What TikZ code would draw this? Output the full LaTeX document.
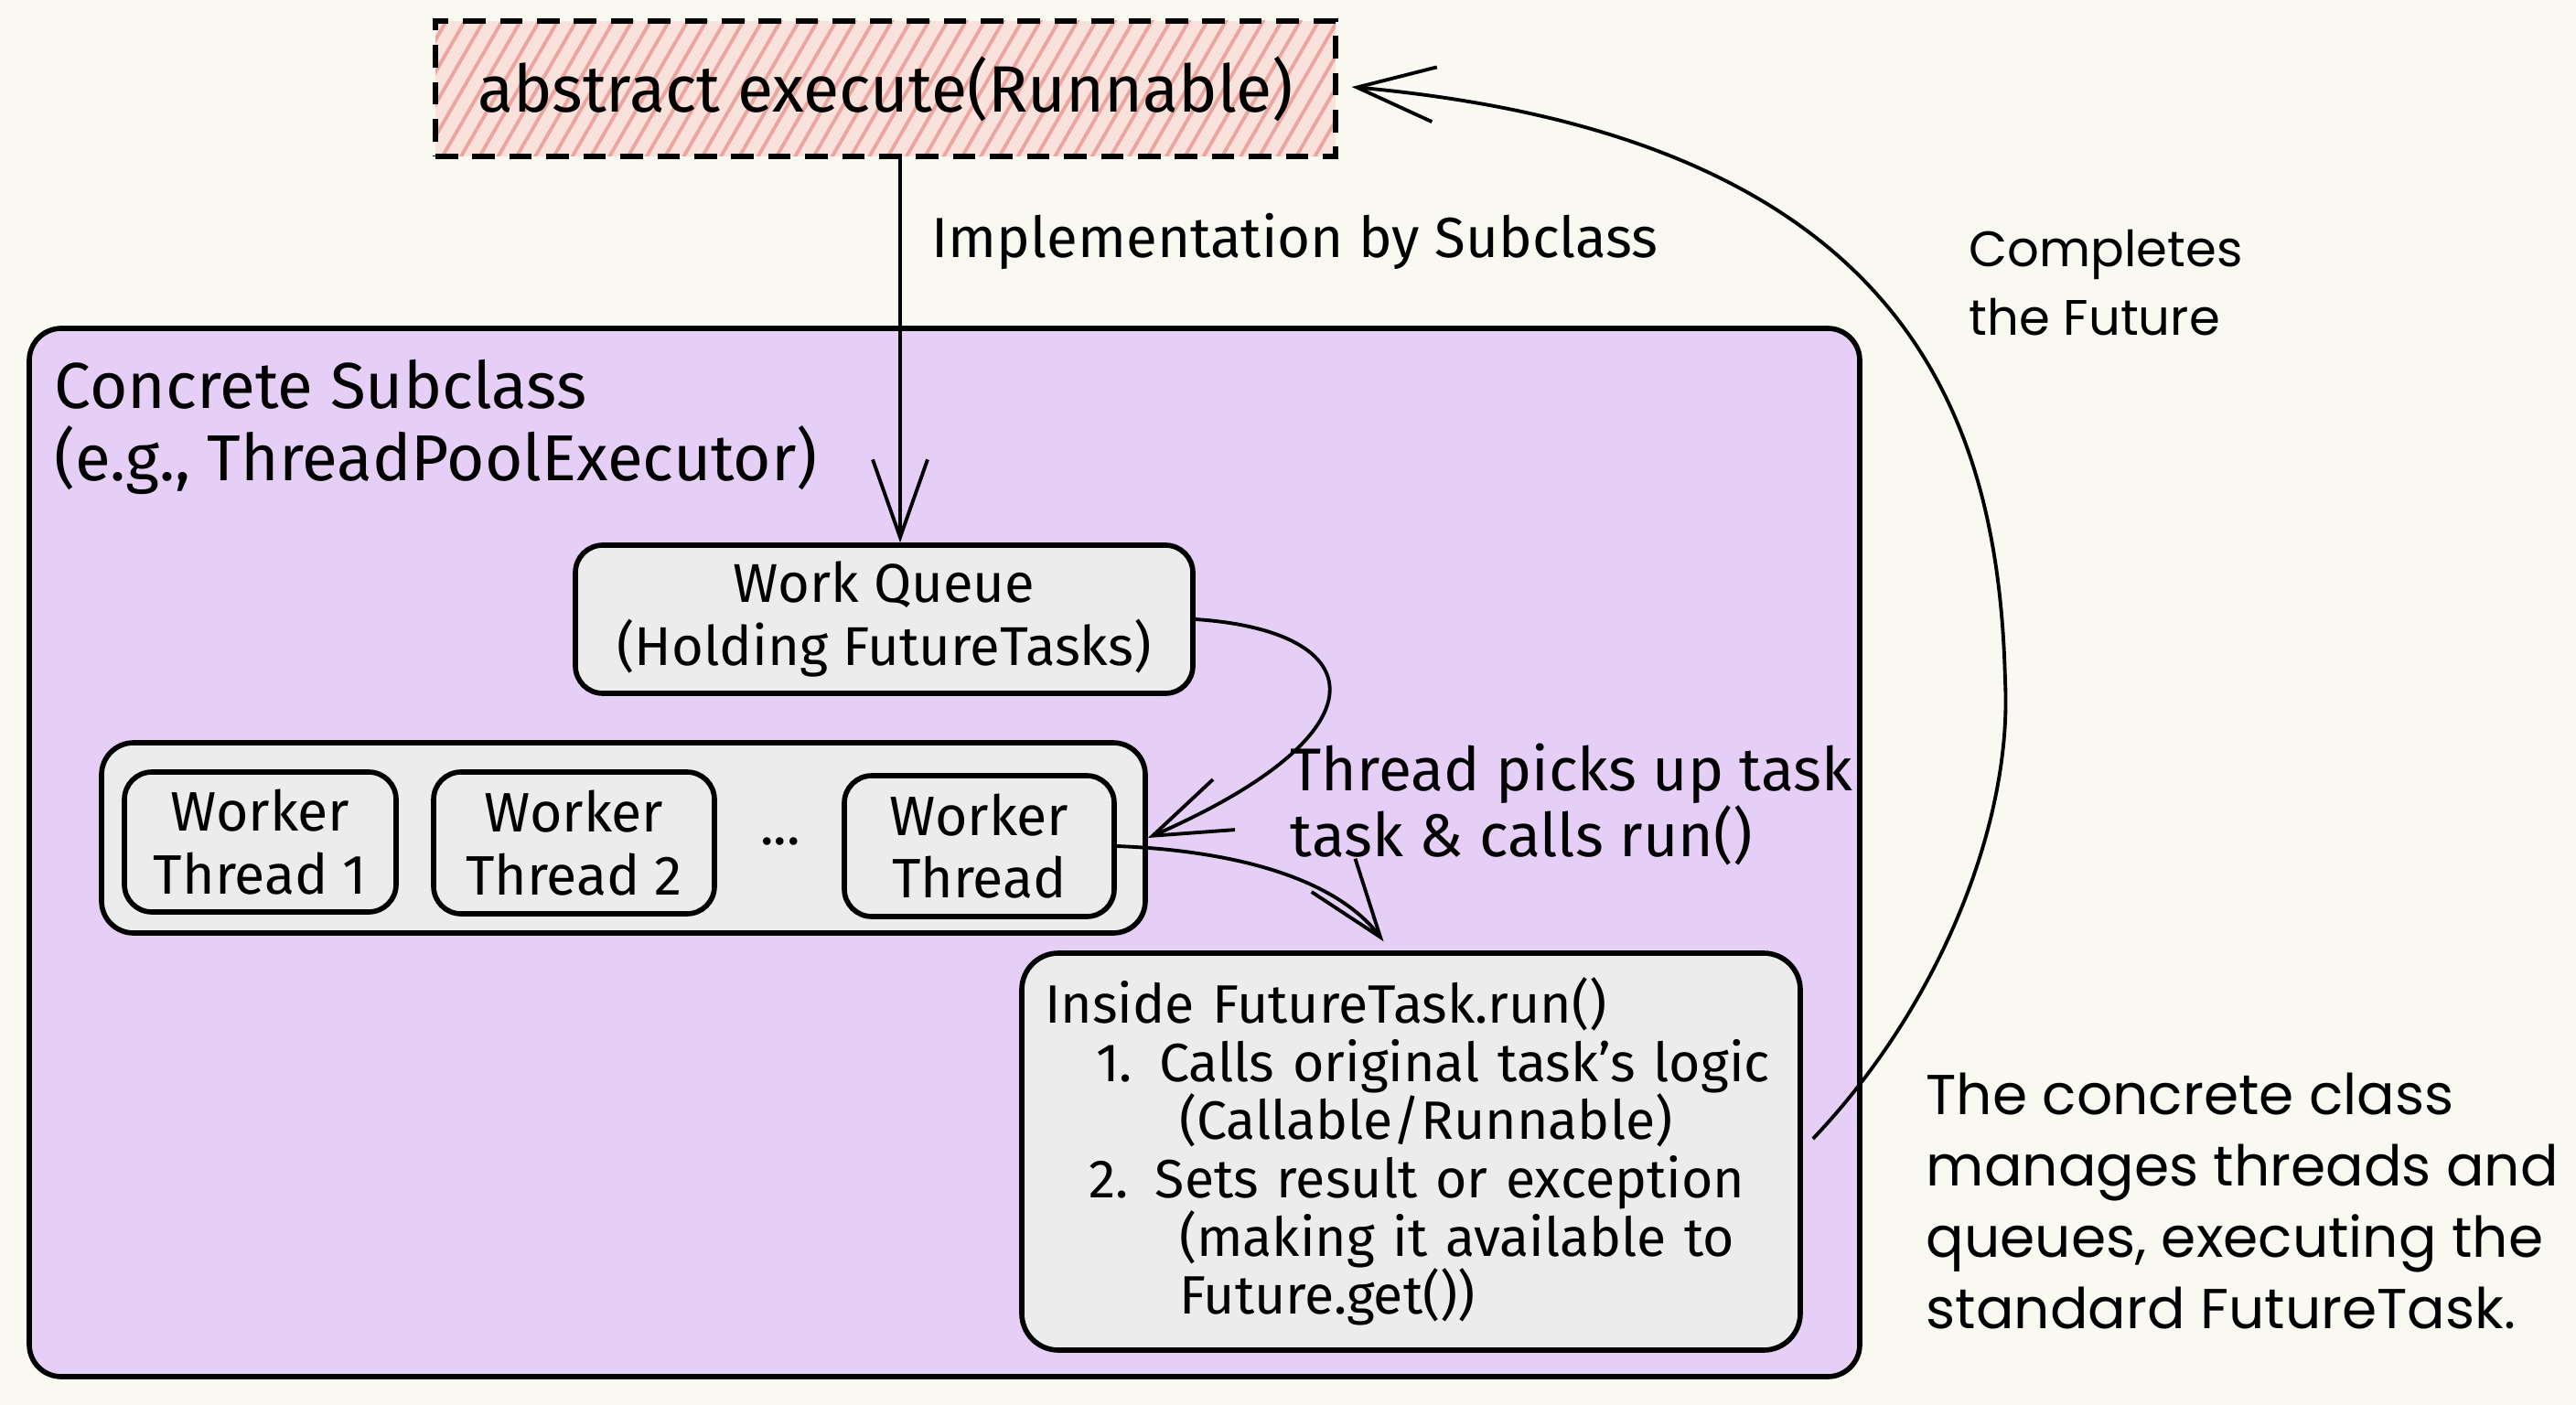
\documentclass[tikz,border=0pt]{standalone}
\usepackage{fontspec}
\setmainfont{Fira Sans}
\newfontfamily\widefont{Poppins}
\usetikzlibrary{arrows.meta,patterns.meta,calc}
\definecolor{bgc}{RGB}{249,249,242}
\definecolor{lav}{RGB}{229,207,246}
\definecolor{greyc}{RGB}{236,236,237}
\definecolor{pinkbase}{RGB}{249,226,220}
\definecolor{pinkline}{RGB}{236,165,158}
\newcommand\setsz[2]{\fontsize{#1}{#2}\selectfont}
\begin{document}
\begin{tikzpicture}[x=1cm,y=1cm,
  box/.style={draw=black, line width=1.6pt, rounded corners=0.3cm, fill=greyc, align=center, inner sep=0pt},
  arr/.style={line width=1.1pt, -{Straight Barb[length=0.85cm,width=0.6cm]}},
  absbox/.style={preaction={fill=pinkbase}, pattern={Lines[angle=60,distance=5pt,line width=1.1pt]}, pattern color=pinkline, draw=black, line width=1.5pt, dash pattern=on 7pt off 4.5pt, inner sep=0pt},
  lbl/.style={inner sep=0pt, align=left}
]
\fill[bgc] (0,0) rectangle (28.16,-15.36);
\useasboundingbox (0,0) rectangle (28.16,-15.36);

% outer concrete subclass
\node[draw=black, line width=1.6pt, rounded corners=0.35cm, fill=lav, minimum width=20.01cm, minimum height=11.46cm, inner sep=0pt] (outer) at (10.325,-9.32) {};
\node[lbl, anchor=north west, font={\setsz{20.2pt}{22.3pt}}] (otitle) at (0.59,-3.93) {Concrete Subclass\\(e.g., ThreadPoolExecutor)};

% abstract
\node[absbox, minimum width=9.84cm, minimum height=1.48cm, font={\setsz{20.4pt}{23pt}}] (abs) at (9.68,-0.97) {abstract execute(Runnable)};
\node[lbl, anchor=west, font={\setsz{17.6pt}{20pt}}] (impl) at (10.18,-2.64) {Implementation by Subclass};

% work queue
\node[box, minimum width=6.75cm, minimum height=1.62cm, font={\setsz{17pt}{19.5pt}}] (wq) at (9.665,-6.77) {Work Queue\\(Holding FutureTasks)};

% worker group
\node[box, rounded corners=0.35cm, minimum width=11.41cm, minimum height=2.08cm] (grp) at (6.815,-9.16) {};
\node[box, minimum width=2.97cm, minimum height=1.53cm, font={\setsz{17.3pt}{19.5pt}}] (w1) at (2.845,-9.205) {Worker\\Thread 1};
\node[box, minimum width=3.07cm, minimum height=1.55cm, font={\setsz{17.3pt}{19.5pt}}] (w2) at (6.275,-9.215) {Worker\\Thread 2};
\node[inner sep=0pt, font={\setsz{17.3pt}{19.5pt}}] (dots) at (8.53,-9.2) {...};
\node[box, minimum width=2.95cm, minimum height=1.54cm, font={\setsz{17.3pt}{19.5pt}}] (w3) at (10.705,-9.25) {Worker\\Thread};

% future task
\node[box, rounded corners=0.4cm, text width=8.01cm, inner xsep=0.25cm, minimum height=4.34cm, align=left, font={\setsz{16.8pt}{18.1pt}}] (ft) at (15.425,-12.59) {Inside FutureTask.run()\\
\hspace*{0.56cm}1. Calls original task’s logic\\
\hspace*{1.47cm}(Callable/Runnable)\\
\hspace*{0.48cm}2. Sets result or exception\\
\hspace*{1.47cm}(making it available to\\
\hspace*{1.47cm}Future.get())};

% labels
\node[lbl, anchor=north west, font={\setsz{18.8pt}{20.5pt}}] (tlbl) at (14.10,-8.12) {Thread picks up task\\task \& calls run()};
\node[lbl, anchor=north west, font={\widefont\setsz{15.5pt}{21.5pt}}] (clbl) at (21.52,-2.50) {Completes\\the Future};
\node[lbl, anchor=north west, font={\widefont\setsz{17.5pt}{22.2pt}}] (note) at (21.05,-11.72) {The concrete class\\manages threads and\\queues, executing the\\standard FutureTask.};

% connectors
\draw[arr] ($(abs.south)+(0.16,0)$) -- ($(wq.north)+(0.175,0)$);
\draw[arr] (wq.east) .. controls (15.0,-6.9) and (15.2,-8.0) .. (grp.east);
\draw[arr] (w3.east) .. controls (13.5,-9.3) and (14.6,-9.6) .. ($(ft.north)+(-0.3,0.1)$);
\draw[arr] ($(ft.east)+(0.11,0.14)$) .. controls (21.2,-11.0) and (22.0,-9.0) .. (21.92,-7.45) .. controls (21.85,-4.5) and (20.8,-1.5) .. ($(abs.east)+(0.15,0.02)$);
\end{tikzpicture}
\end{document}
